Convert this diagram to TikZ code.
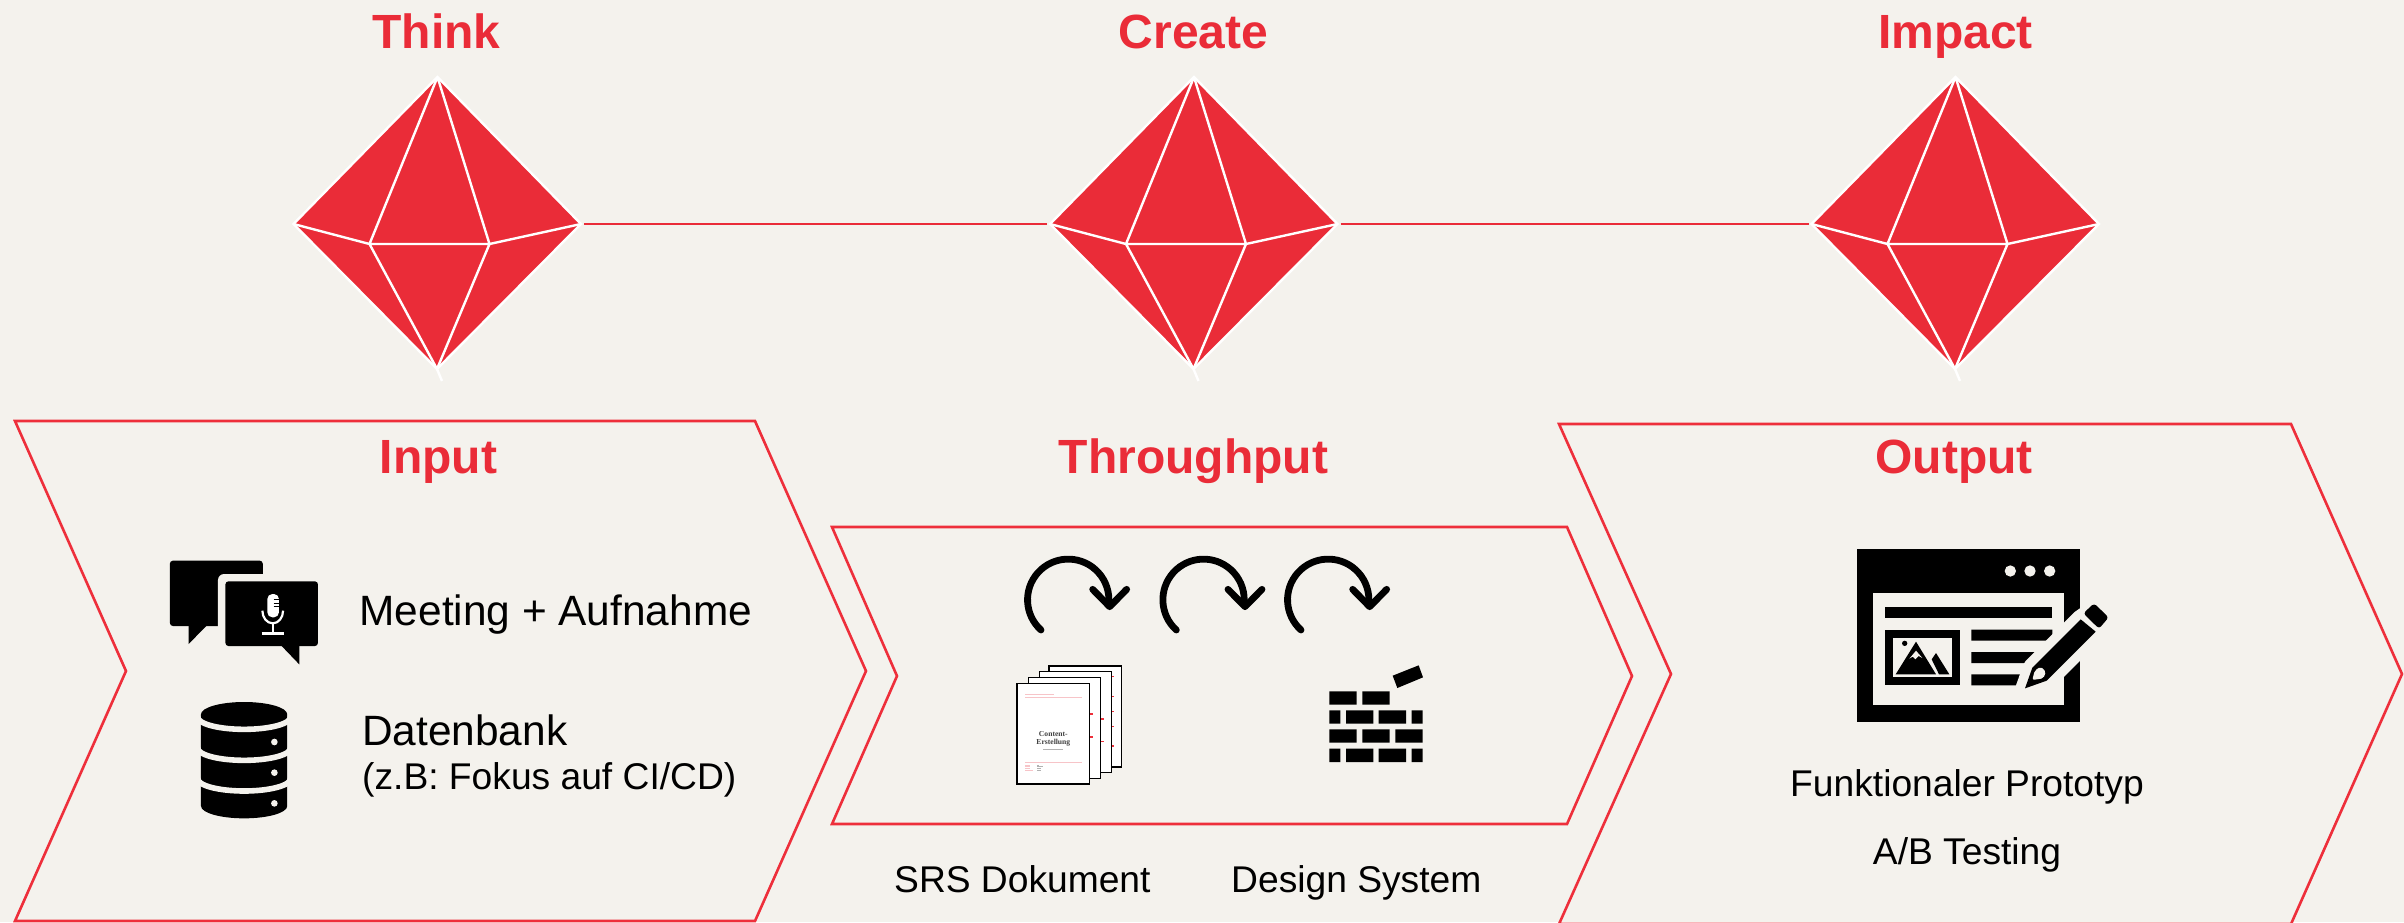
\documentclass[tikz,border=0pt]{standalone}
\usepackage{fontspec}
\setmainfont{Liberation Sans}
\newfontfamily\docserif{Liberation Serif}
\definecolor{bgc}{HTML}{F4F2ED}
\definecolor{gemred}{HTML}{EA2C38}
\definecolor{linered}{HTML}{EE2F3B}
\definecolor{pinkrule}{HTML}{F7C4C8}
\tikzset{
  chevron/.style={draw=linered,line width=2.6pt,miter limit=10,line join=miter},
  headline/.style={anchor=base,text=gemred,font=\fontsize{48}{56}\selectfont\bfseries,inner sep=0pt},
  bodytext/.style={anchor=base west,text=black,font=\fontsize{42.4}{50}\selectfont,inner sep=0pt},
  smalltext/.style={anchor=base,text=black,font=\fontsize{37.2}{45}\selectfont,inner sep=0pt},
  gemline/.style={draw=white,line width=2.4pt},
  link/.style={draw=gemred,line width=2.6pt,shorten >=3pt,shorten <=3pt},
  loop/.style={draw=black,line width=6.8pt,line cap=round,line join=round},
  pagesheet/.style={draw=black,fill=white,line width=1.6pt},
}
\newcommand{\gem}[2]{%
  \begin{scope}[shift={(#2,0)}]
    \coordinate (#1-T) at (437.5,77);
    \coordinate (#1-L) at (293.5,224);
    \coordinate (#1-R) at (581,224);
    \coordinate (#1-B) at (437,369);
    \coordinate (#1-IL) at (369.5,244);
    \coordinate (#1-IR) at (489.5,244);
    \coordinate (#1-tail) at (442,381);
    \path[fill=gemred] (#1-T)--(#1-R)--(#1-B)--(#1-L)--cycle;
    \draw[gemline] (#1-T)--(#1-R)--(#1-B)--(#1-L)--cycle;
    \draw[gemline] (#1-T)--(#1-IL) (#1-T)--(#1-IR) (#1-IL)--(#1-IR)
      (#1-IL)--(#1-L) (#1-IR)--(#1-R) (#1-IL)--(#1-B) (#1-IR)--(#1-B) (#1-B)--(#1-tail);
  \end{scope}}
\newcommand{\curlyarrow}[1]{%
  \begin{scope}[shift={(#1,0)}]
    \draw[loop] (183,300) arc[start angle=132,end angle=360,radius=122pt];
    \draw[loop] (338,178)--(389,230)--(440,178);
  \end{scope}}
\newcommand{\brickrowA}[1]{%
  \fill[black] (1048,#1) rectangle (1081,#1+40) (1098,#1) rectangle (1180,#1+40)
    (1196,#1) rectangle (1278,#1+40) (1295,#1) rectangle (1328,#1+40);}
\begin{document}
\begin{tikzpicture}[x=1pt,y=1pt,yscale=-1]
\path[use as bounding box,clip] (0,0) rectangle (2404,922);
\fill[bgc] (0,0) rectangle (2404,922);

% gems
\gem{think}{0}
\gem{create}{756.5}
\gem{impact}{1518}
\draw[link] (think-R) -- (create-L);
\draw[link] (create-R) -- (impact-L);

% headings
\node[headline] (tThink) at (436.5,48.5) {Think};
\node[headline] (tCreate) at (1193.5,48.5) {Create};
\node[headline] (tImpact) at (1955.5,48.5) {Impact};
\node[headline] (tInput) at (438.5,473) {Input};
\node[headline] (tThrough) at (1193.5,473) {Throughput};
\node[headline] (tOutput) at (1954,473) {Output};

% chevrons
\draw[chevron] (15,421)--(755,421)--(866,671)--(755,921)--(15,921)--(126,671)--cycle;
\draw[chevron] (832,527)--(1567,527)--(1632,676)--(1567,824)--(832,824)--(897,676)--cycle;
\draw[chevron] (1559,424)--(2291,424)--(2402,674)--(2291,924)--(1559,924)--(1671,674)--cycle;

% input icons (the crop this was measured on is 2.412 wide, 3 high)
\begin{scope}[shift={(150,520)},xscale=0.4146,yscale=0.33333]
  \fill[black,rounded corners=3pt] (48,122)--(272,122)--(272,318)--(48,318)--cycle;
  \fill[black] (93,310)--(136,318)--(93,372)--cycle;
  \fill[bgc,rounded corners=6pt] (164,162) rectangle (425,395);
  \fill[black,rounded corners=3pt] (182,184) rectangle (405,378);
  \fill[black] (316,376)--(360,376)--(360,433)--cycle;
  \fill[white,rounded corners=5pt] (283,222) rectangle (311,292);
  \draw[black,line width=0.7pt] (298,238)--(311,238) (298,249)--(311,249) (298,260)--(311,260);
  \draw[white,line width=2.2pt] (271,272) arc[start angle=180,end angle=0,x radius=25pt,y radius=38pt];
  \draw[white,line width=2.2pt] (296,310)--(296,341);
  \draw[white,line width=2.6pt] (269,341)--(323,341);

  % database
  \fill[black] (123,583) arc[start angle=180,end angle=360,x radius=104pt,y radius=37pt]
     --(331,858) arc[start angle=0,end angle=180,x radius=104pt,y radius=37pt]--cycle;
  \foreach \yy in {591,684,776}{
    \draw[bgc,line width=5.6pt] (115,\yy) arc[start angle=180,end angle=0,x radius=112pt,y radius=37pt];
  }
  \fill[bgc] (300,666) ellipse[x radius=8pt,y radius=10pt]
             (300,758) ellipse[x radius=8pt,y radius=10pt]
             (300,850) ellipse[x radius=8pt,y radius=10pt];
\end{scope}
\node[bodytext] (tMeeting) at (359.4,625.7) {Meeting + Aufnahme};
\node[bodytext] (tData) at (362,745) {Datenbank};
\node[bodytext,font=\fontsize{37.2}{45}\selectfont] (tFocus) at (362,789.3) {(z.B: Fokus auf CI/CD)};

% throughput icons
\begin{scope}[shift={(980,530)},scale=0.33333]
  \curlyarrow{0}
  \curlyarrow{406}
  \curlyarrow{780}
  % pages
  \draw[pagesheet] (207,408) rectangle (425,711);
  \draw[pagesheet] (178,425) rectangle (395,727);
  \draw[pagesheet] (145,443) rectangle (362,745);
  \foreach \yy in {440,500,545,590,648}{\fill[linered] (395,\yy-2) rectangle (402,\yy+2);}
  \foreach \yy in {567,635}{\fill[linered] (363,\yy-2) rectangle (372,\yy+2);}
  \foreach \yy in {552,621}{\fill[linered] (330,\yy-2) rectangle (339,\yy+2);}
  \draw[pagesheet] (111,460) rectangle (329,762);
  \draw[pinkrule,line width=0.5pt] (136,493)--(222,493);
  \draw[pinkrule,line width=0.8pt] (135,502)--(305,502) (135,696)--(305,696);
  \draw[gray!60,line width=0.5pt] (190,659)--(250,659);
  \draw[pinkrule,line width=0.5pt] (136,705)--(150,705) (136,710)--(150,710) (136,715)--(150,715) (136,720)--(160,720);
  \draw[gray!60,line width=0.5pt] (172,705)--(178,705) (172,710)--(190,710) (172,715)--(182,715) (172,720)--(182,720);
  \node[inner sep=0pt,text=black!75,align=center,font=\docserif\fontsize{7.6}{8}\selectfont\bfseries] (docTitle) at (220,626) {Content-\\Erstellung};
  % bricks
  \fill[black] (1048,484) rectangle (1130,524) (1147,484) rectangle (1229,524);
  \brickrowA{541}
  \fill[black] (1048,598) rectangle (1130,638) (1147,598) rectangle (1229,638) (1246,598) rectangle (1328,638);
  \brickrowA{656}
  \fill[black] (1238,437)--(1316,406)--(1329,442)--(1252,474)--cycle;
\end{scope}
\node[anchor=base west,text=black,font=\fontsize{37.2}{45}\selectfont,inner sep=0pt] (tSRS) at (894,892) {SRS Dokument};
\node[anchor=base west,text=black,font=\fontsize{37.2}{45}\selectfont,inner sep=0pt] (tDesign) at (1231,892) {Design System};

% output icon
\begin{scope}[shift={(1830,530)},scale=0.33333]
  \fill[black] (80,56) rectangle (751,575);
  \fill[bgc] (130,190) rectangle (701,525);
  \fill[bgc] (541,123) circle[radius=17pt] (600,123) circle[radius=17pt] (659,123) circle[radius=17pt];
  \fill[black] (164,232) rectangle (667,265);
  \fill[black] (424,299) rectangle (667,332) (424,366) rectangle (667,399) (424,433) rectangle (667,466);
  \fill[black] (164,299) rectangle (390,466);
  \fill[bgc] (190,324) rectangle (365,441);
  \fill[black] (197,433)--(258,335)--(318,433)--cycle;
  \fill[bgc] (238,386)--(258,362)--(277,384)--(266,378)--(256,388)--(248,380)--cycle;
  \fill[black] (224,340) circle[radius=8pt];
  \fill[black] (305,388)--(318,369)--(358,433)--(327,433)--cycle;
  % pencil halo
  \draw[bgc,line width=19pt,line join=round,fill=bgc] (585,475)--(607,413)--(752,268)--(800,235)--(835,262)--(797,305)--(650,452)--cycle;
  \fill[black] (585,475)--(607,413)--(752,268)--(797,305)--(650,452)--cycle;
  \fill[black,rounded corners=3pt] (760,250)--(792,220)--(836,262)--(807,296)--cycle;
  \fill[bgc,rounded corners=2pt] (607,450)--(614,422)--(632,410)--(648,425)--(640,445)--cycle;
\end{scope}
\node[smalltext] (tProto) at (1967,796) {Funktionaler Prototyp};
\node[smalltext] (tAB) at (1967,864) {A/B Testing};
\end{tikzpicture}
\end{document}
